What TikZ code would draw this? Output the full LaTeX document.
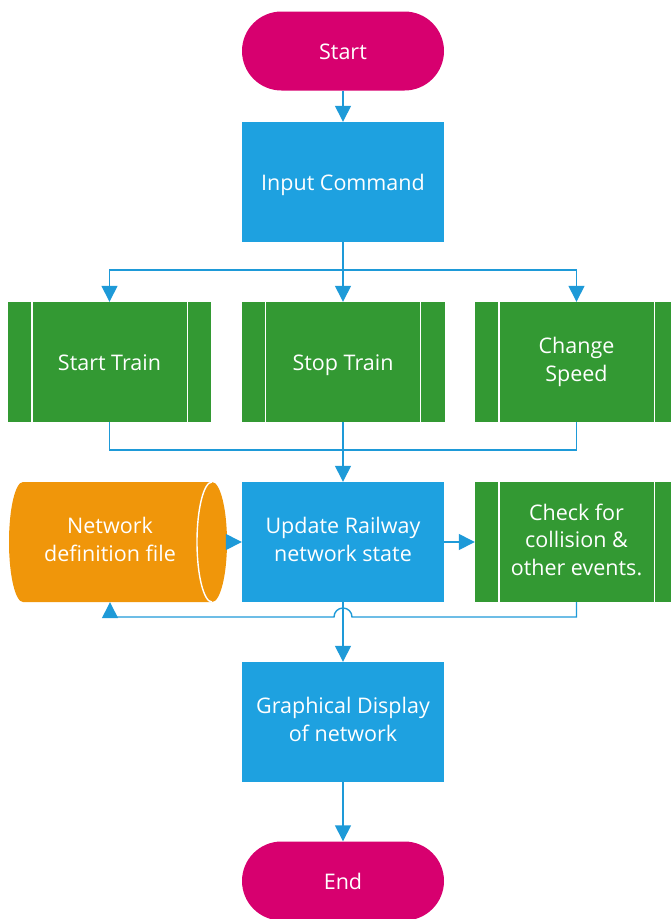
\documentclass[tikz,border=0pt]{standalone}
\usepackage{fontspec}
\setmainfont{Open Sans}
\usetikzlibrary{arrows.meta}
\definecolor{cMag}{HTML}{D7006F}
\definecolor{cBlue}{HTML}{1EA1E0}
\definecolor{cGreen}{HTML}{339933}
\definecolor{cOrange}{HTML}{F0960A}
\definecolor{cLine}{HTML}{1E9AD8}
\newcommand\mystrut{\rule[-5pt]{0pt}{27.5pt}}
\begin{document}
\begin{tikzpicture}[x=1pt,y=1pt,
  base/.style={inner sep=0pt, align=center, text=white, font=\fontsize{21.5}{27.5}\selectfont,
    execute at begin node=\mystrut, execute at end node=\mystrut},
  term/.style={base, fill=cMag, rectangle, rounded corners=39.5pt, minimum width=202pt, minimum height=79pt},
  proc/.style={base, fill=cBlue, minimum width=202pt, minimum height=120pt},
  sub/.style={base, fill=cGreen, minimum width=203pt, minimum height=120pt},
  bar/.style={white, line width=1.4pt},
  conn/.style={cLine, line width=1.4pt},
  arr/.style={conn, -{Triangle[length=16pt, width=16pt]}}]
\useasboundingbox (0,0) rectangle (671,-919);
% nodes
\node[term] (start) at (343,-51) {Start};
\node[proc] (input) at (343,-182) {Input Command};
\node[sub] (st) at (109.5,-362) {Start Train};
\node[sub] (sp) at (343,-362) {Stop Train};
\node[sub] (cs) at (576.5,-362) {Change\\Speed};
\node[proc] (upd) at (343,-542) {Update Railway\\network state};
\node[sub] (chk) at (576.5,-542) {Check for\\collision \&\\other events.};
\node[proc] (gd) at (343,-722) {Graphical Display\\of network};
\node[term] (end) at (343,-881) {End};
% cylinder (stored data)
\fill[cOrange] (23,-482) -- (212,-482)
  arc[start angle=90, end angle=-90, x radius=15pt, y radius=60pt]
  -- (23,-602)
  arc[start angle=270, end angle=90, x radius=14pt, y radius=60pt] -- cycle;
\draw[bar] (212,-482) arc[start angle=90, end angle=270, x radius=15pt, y radius=60pt];
\node[inner sep=0pt, minimum width=218pt, minimum height=120pt] (cyl) at (118,-542) {};
\node[base] (cyltext) at (110,-542) {Network\\definition file};
% sub-process bars
\foreach \n in {st,sp,cs,chk}{
  \draw[bar] ([xshift=24pt]\n.north west) -- ([xshift=24pt]\n.south west);
  \draw[bar] ([xshift=-24pt]\n.north east) -- ([xshift=-24pt]\n.south east);
}
% connectors
\draw[arr] (start.south) -- (input.north);
\coordinate (split) at (343,-270);
\draw[conn] (input.south) -- (split);
\draw[arr] (split) -| (st.north);
\draw[arr] (split) -| (cs.north);
\draw[arr] (split) -- (sp.north);
\coordinate (merge) at (343,-450);
\draw[conn] (st.south) |- (merge);
\draw[conn] (cs.south) |- (merge);
\draw[arr] (sp.south) -- (upd.north);
\draw[arr] (cyl.east) -- (upd.west);
\draw[arr] (upd.east) -- (chk.west);
\coordinate (fb1) at (576.5,-617);
\coordinate (hopR) at (352,-617);
\coordinate (fb2) at (110,-617);
\draw[arr] (chk.south) -- (fb1) -- (hopR)
  arc[start angle=0, end angle=180, radius=9pt] -- (fb2) -- ([xshift=-8pt]cyl.south);
\draw[arr] (upd.south) -- (gd.north);
\draw[arr] (gd.south) -- (end.north);
\end{tikzpicture}
\end{document}
